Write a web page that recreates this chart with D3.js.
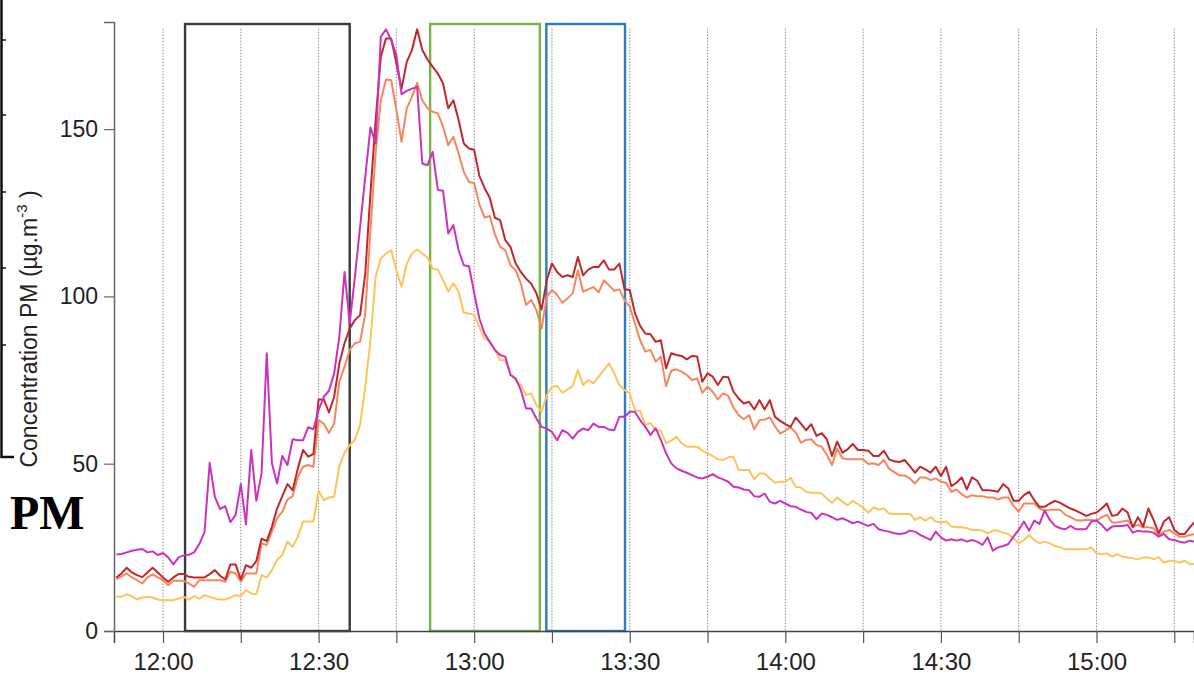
<!DOCTYPE html>
<html><head><meta charset="utf-8">
<script src="https://cdn.jsdelivr.net/npm/d3@7"></script>
<style>
body{margin:0;background:#fff}
svg{display:block}
text{font-family:"Liberation Sans", Arial, sans-serif}
</style>
</head><body>
<svg id="c" width="1194" height="688"></svg>
<script>
// ---- data (1-minute samples, first sample at 11:51) ----
const firstSample = "11:51:00";
const magenta = [22.9,23,23.5,24,24.3,24.5,23.5,23.8,22.7,23.3,22,19.9,22,22.6,22.8,23.5,26,29.5,50.3,40.1,
36.4,37.3,32.5,34.7,43.9,31.9,54.1,38.9,47.1,83,50.1,44.1,52.3,49.6,57.3,57,57,60.9,60.3,66,
70,71.8,77,88,107.3,91.9,105.8,120.8,135.7,150.5,145.7,177.6,179.8,176.6,172.1,160.4,161.4,162.1,162.6,139.7,
139.2,143.2,131.8,131.6,118.8,121.3,113.8,109.3,109,101,93.4,88.9,86.4,84,82.5,82,76.5,75.5,72,66.5,
66.5,63.5,61,60.5,59.5,57,60,59.2,57.5,59.5,60.5,60,62,61,61,60.2,60,64,64,65.5,
65.5,63,61,58.6,60.6,57.1,53.1,50.1,48.6,47.9,47.3,46.6,45.9,45.6,46.1,46.9,45.9,45.3,44.6,43.1,
42.9,42.3,42.1,40.3,40.1,41.1,38.6,38.1,38.9,38.1,37.3,37.1,36.3,35.6,35.3,33.4,35.1,34.7,34,33.2,
33.7,33,32.2,32.7,32,31.4,32,30.4,30,29.7,29.2,29,29.2,30,29.7,28.7,28,27.2,29.7,28,
27,27.4,27,27.4,26.7,27.2,26.7,25.7,28,24,25,25.4,26,28.2,30.2,32.7,30,33,32,36,
33.2,31.4,30.7,30.4,31.4,30.4,30.4,30.4,32.7,33,31.7,30,31.2,31.4,31.4,31.7,29.4,30,29.7,29.7,
29.4,28.2,29,27.4,27.2,26.7,26.4,27,26.7];
const darkRed = [16,17.2,18.9,17.5,16.7,16.1,17.5,18.9,17.5,16,14.7,16,17,17,16.2,16,16,16,17,18.2,
16.5,15.4,19.9,19.9,15.4,19.7,18.9,20.9,27.6,26.9,31.2,36.6,40.3,43.9,42.1,48.6,54.1,52.1,52.9,69.2,
69.2,65.3,70,80,86,90.4,92.9,94.4,106.9,130.8,152.7,171.6,177.1,177.1,169.6,162.1,170.1,173.6,179.8,173.6,
170.8,168.6,166.6,163.6,156.2,158.6,152.7,145.7,144.2,143.8,136,132.4,129.5,123.5,122.8,116.8,114.8,109.8,107.3,105.3,
103.8,100.9,96.1,104.8,109.8,107.3,105.8,106.3,105.8,111.8,106.3,108,108.8,108.8,110.8,108,108,109.8,102.1,101.9,
95,91.2,88.9,88.7,86.4,86.9,78.5,83,82.5,82.2,81.2,82.2,82,74.5,77,76,73.5,76,75.8,71.5,
69.5,68,68.5,66.2,69,66.2,69,64,62.8,61.8,61,63.8,62,60,61.8,58.3,59.1,57.3,52.3,56.6,
53.3,54.3,55.9,54.1,54.1,53.9,52.3,52.3,53.9,51.3,50.7,50.5,51.1,49.3,47.3,49.1,48.3,47.3,49.1,46.3,
49.1,43.3,44.3,45.9,42.3,45.9,44.9,42.1,42.1,41.9,41.6,43.9,42.6,38.9,38.9,40.6,41.6,39.1,37.1,37.1,
38.1,38.9,38.3,37.4,36.6,36,35.2,34.4,35,35.4,36.6,38.1,34.4,34.7,36.6,35.4,31,34,31.2,36.6,
33.2,29.2,32.7,34,30.2,29,29,31,32.7];
const salmon = [15.4,16.3,17.2,16,15.2,14.2,16,16.9,16,15.2,13.7,15,15,15,14.2,13.2,15.2,15.2,15.2,15.2,
15.2,14.7,17.7,17.2,14.7,17.2,17.2,17.2,26.2,25.7,29.7,33.7,35.6,39.3,40.3,46.1,49.1,49.6,49.1,63,
62,59.2,62,74.5,79,84,86,86.4,94.9,120,143,158.6,164.8,164.6,155.7,146.2,156.2,159.6,163.8,158.6,
156.2,155.2,154.7,150.7,145.2,147.7,142.7,137.2,134.2,133.9,127.5,123.6,124,118.5,114.8,113.8,109.3,107.8,103.8,97.4,
98.9,95.9,90.4,99.9,101.9,100.4,98.1,99.4,100.9,107.8,101.4,102.1,102.8,101.2,104.8,103.3,101.7,102.1,98.9,96.9,
91.9,86.9,83.5,84,80.5,82,73.2,77.8,78.2,77.5,76.5,75,75.5,71.2,73,71.5,69.2,71,70.2,66.8,
64.5,63.3,64.5,60.3,63,63.2,63.8,61.2,59,59.9,60.9,59.3,56.3,57.1,57.3,55.6,55.1,52.6,49.6,54.5,
51.6,51.3,51.3,51.3,51.3,49.9,50.1,49.6,51.1,48.5,47.5,46.5,46.5,45.6,44.1,45.9,45.9,45.1,45.6,44.6,
44.3,41.6,42.3,40.9,39.9,40.6,40.3,40.3,39.9,39.9,39.3,39.9,39.9,37.4,35.7,38.1,38.1,38.1,36.6,36,
36.2,36.2,36.2,34.7,34,33.2,33,33.2,33.2,33,34,34.7,32.4,32.4,32.7,33,31.2,31.7,31,31,
30.7,28.7,29.7,30.2,29.2,28.2,28.2,28.7,29];
const yellow = [10.2,10.2,11,10.4,9.4,10,10.2,10,9.4,9.2,9.2,9.2,9.7,10.2,9.4,10.4,9.7,10.7,10.2,9.7,
9.4,9.4,10,10.7,10.4,12.2,11.2,11,16.7,16,18.2,21.2,22.7,26.7,25.2,28.2,32.7,32.7,32.7,41.9,
39.1,39.9,40.1,49.3,53.3,55.5,57.1,61.6,73,86.9,105.9,111.3,112.8,113.8,107.8,102.9,109.8,112.8,114,112.8,
111.6,108.3,108,104.9,101.4,103.9,101.4,95.1,94.9,94.4,90.9,87.4,86.6,84,81,80.9,76.9,74.9,73.5,70.5,
71,67.5,65.5,70.5,73,73.2,71.2,72.2,73.2,78,73.5,75,74,76,78,80,77,73.5,72,71,
66,65.7,61.5,62.2,60,59.9,56.1,56.9,58.1,56.1,55.1,55.1,55.1,53.9,53.1,52.3,51.3,51.1,51.9,52.1,
48.1,48.1,48.1,45.3,47.1,47.1,45.6,44.3,44.6,44.6,45.8,43.1,42.9,41.6,41.3,41.3,41.1,39.6,38.3,39.9,
38.6,37.6,38.9,37.9,36.9,35.4,36.9,36.3,36.6,35.1,35,35,35,35,33.2,34,33,34,32.7,32.4,
32.7,31.2,31,31,30.7,30.2,30.2,30,29.2,30,30,29.4,29,27.7,26.2,27.2,28.7,27.2,26.2,26.7,
26.2,25.4,25,24.4,24.4,24.4,24.4,24.4,25,23.2,23,23.2,22.2,23,22.2,22,21.7,21.4,22,22,
21.4,22,20.4,21,21,20.4,21,20,20];
const yTicks = [0, 50, 100, 150];
const xTickLabels = ["12:00","12:30","13:00","13:30","14:00","14:30","15:00"];
const boxStarts = ["12:04:15","12:51:30","13:13:55"];
const boxEnds   = ["12:36:00","13:12:40","13:29:05"];
const boxTop = 181.4;
const timeDomain = ["11:50:33","15:18:48"];

// ---- drawing ----
const parse = d3.timeParse("%H:%M:%S");
const fmt = d3.timeFormat("%H:%M");
const svg = d3.select("#c");
svg.append("rect").attr("width",1194).attr("height",688).attr("fill","#fff");

const x = d3.scaleTime().domain(timeDomain.map(parse)).range([114, 1194]);
const y = d3.scaleLinear().domain([0, 182]).range([631, 22]);

const t0 = parse(firstSample);
const times = magenta.map((_, i) => d3.timeMinute.offset(t0, i));

// left artifact (cropped neighbouring panel)
const art = svg.append("g").attr("stroke","#111").attr("fill","none");
art.append("path").attr("d","M1.5,0V457H14").attr("stroke-width",2.5);
[40,115,192,268,345].forEach(v=>art.append("line").attr("x1",1).attr("x2",6).attr("y1",v).attr("y2",v).attr("stroke-width",1.5));

// gridlines every 15 minutes
const gridTimes = d3.timeMinute.every(15).range(x.domain()[0], x.domain()[1]);
svg.append("g").selectAll("line").data(gridTimes).join("line")
  .attr("x1", d=>x(d)).attr("x2", d=>x(d))
  .attr("y1", y(180)).attr("y2", y(0))
  .attr("stroke","#8c8c8c").attr("stroke-width",1).attr("stroke-dasharray","1.5,1.5");

// boxes
const boxColors = ["#3b3b3b","#78b34a","#2a7cc7"];
svg.append("g").selectAll("rect").data(boxStarts).join("rect")
  .attr("x",(d)=>x(parse(d)))
  .attr("width",(d,i)=>x(parse(boxEnds[i]))-x(parse(d)))
  .attr("y", y(boxTop)).attr("height", y(0)-y(boxTop))
  .attr("fill","none").attr("stroke",(d,i)=>boxColors[i]).attr("stroke-width",2.4);

// axes
const xAxis = d3.axisBottom(x).tickValues(gridTimes).tickSizeOuter(0).tickSize(12).tickPadding(10)
  .tickFormat(d => xTickLabels.includes(fmt(d)) ? fmt(d) : "");
const gx = svg.append("g").attr("transform",`translate(0,${y(0)})`).call(xAxis);
gx.select(".domain").attr("stroke","#444").attr("stroke-width",1.5);
gx.selectAll(".tick line").attr("stroke","#555").attr("stroke-width",1.2);
gx.selectAll("text").attr("font-size",24).attr("fill","#222").style("font-family","'Liberation Sans', Arial, sans-serif");

const yAxis = d3.axisLeft(y).tickValues(yTicks).tickSizeOuter(0).tickSize(10).tickPadding(6);
const gy = svg.append("g").attr("transform","translate(114,0)").call(yAxis);
gy.select(".domain").attr("stroke","#666").attr("stroke-width",1.5);
gy.selectAll(".tick line").attr("stroke","#666").attr("stroke-width",1.2);
gy.selectAll("text").attr("font-size",23).attr("fill","#222").style("font-family","'Liberation Sans', Arial, sans-serif");

// y label
const yl = svg.append("text").attr("transform","translate(37,329) rotate(-90)")
  .attr("text-anchor","middle").attr("font-size",23).attr("fill","#222");
yl.append("tspan").text("Concentration PM (µg.m");
yl.append("tspan").attr("dy",-10).attr("font-size",15).text("-3");
yl.append("tspan").attr("dy",10).text(" )");

// PM label
svg.append("text").attr("x",10).attr("y",529).attr("font-size",48).attr("font-weight","bold")
  .style("font-family","'Liberation Serif', 'Times New Roman', serif").attr("fill","#000").text("PM");

// series
const line = d3.line().x((d,i)=>x(times[i])).y(d=>y(d));
const series = [[yellow,"#fcc55c"],[salmon,"#f5875f"],[darkRed,"#c1272d"],[magenta,"#cc33bb"]];
svg.append("g").selectAll("path").data(series).join("path")
  .attr("d", d=>line(d[0])).attr("fill","none").attr("stroke", d=>d[1])
  .attr("stroke-width",2).attr("stroke-linejoin","round");
</script>
</body></html>
